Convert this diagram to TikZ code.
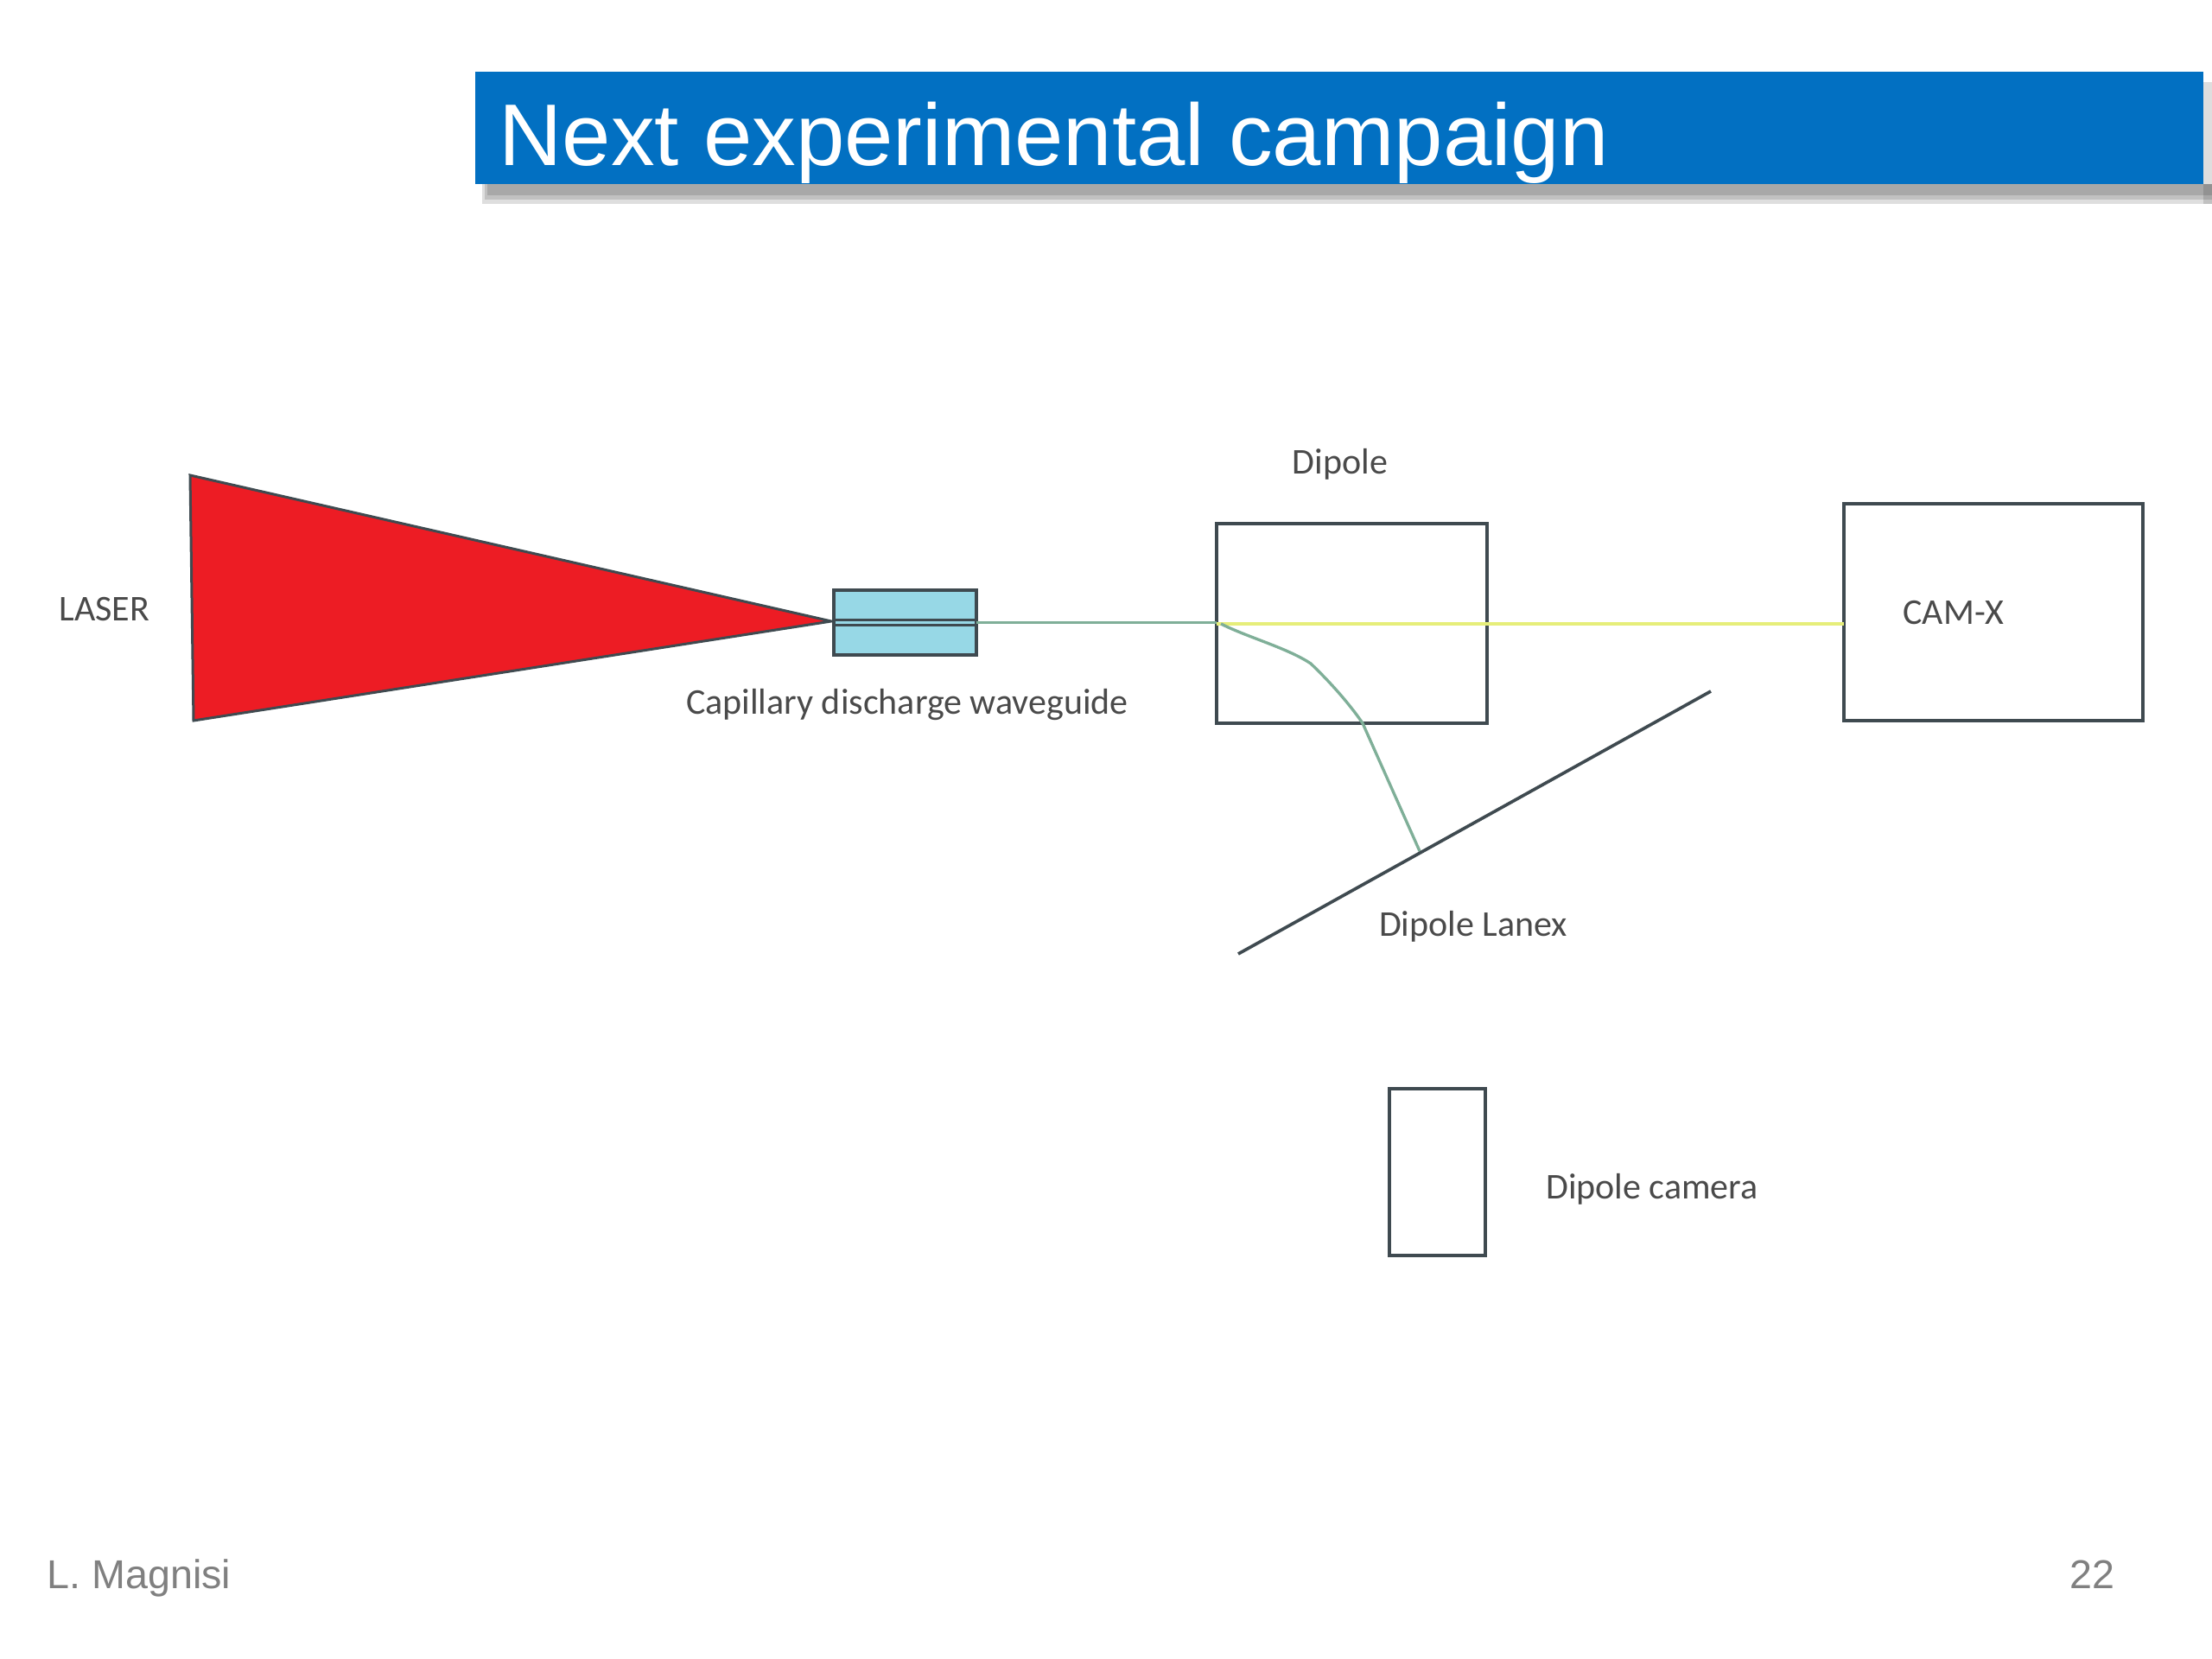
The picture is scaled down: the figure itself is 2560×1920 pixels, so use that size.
\documentclass[tikz,border=0pt]{standalone}
\usepackage{fontspec}
\setmainfont{Liberation Sans}
\newfontfamily\figfont{Carlito}
\definecolor{bandblue}{HTML}{0270C2}
\definecolor{laserred}{HTML}{ED1C24}
\definecolor{guideblue}{HTML}{97D8E6}
\definecolor{edgedark}{HTML}{3F4A50}
\definecolor{beamgreen}{HTML}{7FAF98}
\definecolor{beamyellow}{HTML}{E6EE7A}
\definecolor{figtext}{HTML}{4A4A4A}
\definecolor{foot}{HTML}{808080}
\tikzset{
  x=0.3pt,y=-0.3pt,
  boxshape/.style={draw=edgedark,line width=1.15pt,fill=white,rectangle,inner sep=0pt,outer sep=0pt,minimum width=#1},
  figlabel/.style={font=\figfont\fontsize{12.6}{15}\selectfont,text=figtext,inner sep=0pt},
  footlabel/.style={font=\fontsize{14}{17}\selectfont,text=foot,inner sep=0pt},
  beam/.style={draw=beamgreen,line width=1pt},
  shadowlayer/.style={fill=black,fill opacity=0.13,draw=none}
}
\begin{document}
\begin{tikzpicture}
\useasboundingbox[fill=white] (0,0) rectangle (2560,1920);
% title band with shadow
\fill[shadowlayer] (558,213) rectangle (2560,236);
\fill[shadowlayer] (561,213) rectangle (2560,231);
\fill[shadowlayer] (564,213) rectangle (2560,226);
\fill[shadowlayer] (2550,95) rectangle (2560,236);
\node[fill=bandblue,minimum width=2000*0.3pt,minimum height=130*0.3pt,inner sep=0pt,outer sep=0pt] (band) at (1550,148) {};
\node[anchor=base west,inner sep=0pt,text=white,font=\fontsize{30.4}{36}\selectfont] (title) at (577,192) {Next experimental campaign};
% beam
\coordinate (guideR) at (1130,720.5);
\coordinate (bendA) at (1413,722);
\coordinate (hit) at (1643,985);
\coordinate (lanexA) at (1433,1104);
\coordinate (lanexB) at (1980,800);
% laser
\coordinate (laserA) at (220,550);
\coordinate (laserB) at (224,834);
\coordinate (laserC) at (962,719);
\draw[draw=edgedark,fill=laserred,line width=0.9pt,line join=miter] (laserA) -- (laserB) -- (laserC) -- cycle;
% waveguide
\node[draw=edgedark,line width=1.15pt,fill=guideblue,inner sep=0pt,outer sep=0pt,minimum width=165*0.3pt,minimum height=75*0.3pt] (guide) at (1047.5,720.5) {};
\draw[edgedark,line width=1.1pt] (guide.west |- 0,717.5) -- (guide.east |- 0,717.5);
\draw[edgedark,line width=1.1pt] (guide.west |- 0,723.5) -- (guide.east |- 0,723.5);
% boxes
\node[boxshape=313*0.3pt,minimum height=231*0.3pt] (dipole) at (1564.5,721.5) {};
\node[boxshape=346*0.3pt,minimum height=251*0.3pt] (camx) at (2307,708.5) {};
\node[boxshape=111*0.3pt,minimum height=193*0.3pt] (dcam) at (1663.5,1356.5) {};
% beams
\draw[beam] (guideR) -- (dipole.west |- guideR);
\draw[draw=beamyellow,line width=1.2pt] (dipole.west |- bendA) -- (camx.west |- bendA);
\draw[beam,line join=round] (bendA) .. controls (1445,738) and (1490,750) .. (1517,768)
  .. controls (1540,790) and (1562,815) .. (1577,837) -- (hit);
% lanex
\draw[edgedark,line width=1.1pt] (lanexA) -- (lanexB);
% labels
\node[figlabel] (lLaser) at (121,705) {LASER};
\node[figlabel] (lGuide) at (1050,816) {Capillary discharge waveguide};
\node[figlabel] (lDip) at (1551,537) {Dipole};
\node[figlabel] (lCam) at (2261,709) {CAM-X};
\node[figlabel] (lLan) at (1705,1072) {Dipole Lanex};
\node[figlabel] (lDc) at (1912,1376) {Dipole camera};
\node[footlabel,anchor=base west] (fa) at (54,1838) {L. Magnisi};
\node[footlabel,anchor=base] (fb) at (2421,1838) {22};
\end{tikzpicture}
\end{document}
